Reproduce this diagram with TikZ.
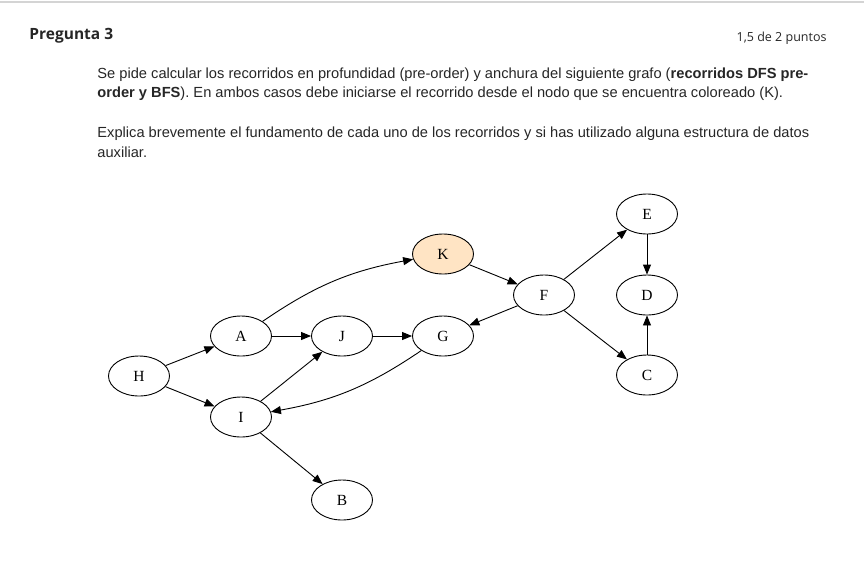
\documentclass[tikz,border=0pt]{standalone}
\usepackage{fontspec}
\setmainfont{Liberation Sans}
\newfontfamily\headfont{Open Sans}
\newfontfamily\graphfont{Liberation Serif}
\usepackage{tikz}
\usetikzlibrary{shapes.geometric,arrows.meta,positioning}
\definecolor{textgray}{HTML}{262626}
\definecolor{rulegray}{HTML}{D4D4D4}
\definecolor{startfill}{HTML}{FFE4C4}
\tikzset
{
    graphnode/.style = {ellipse, draw=black, line width=0.9pt, minimum width=61pt, minimum height=40pt, inner sep=0pt, font=\graphfont\fontsize{15.5}{15.5}\selectfont},
    startnode/.style = {graphnode, fill=startfill},
    textline/.style  = {anchor=base west, inner sep=0pt, text=textgray, font=\fontsize{14.65}{17}\selectfont}
}

\begin{document}
\begin{tikzpicture}[x=1pt, y=-1pt, ->, >={Triangle[length=10pt,width=8pt]}, line width=0.9pt]
    \useasboundingbox (0,0) rectangle (864,574);
    \draw [-, rulegray, line width=1.5pt] (0,2) -- (864,2);
    % header
    \node [textline, font=\headfont\bfseries\fontsize{15.5}{18}\selectfont] (title) at (29,39) {Pregunta 3};
    \node [textline, anchor=base east, font=\headfont\fontsize{12.5}{15}\selectfont] (points) at (827,41) {1,5 de 2 puntos};
    % statement
    \node [textline] (line1) at (97,78) {Se pide calcular los recorridos en profundidad (pre-order) y anchura del siguiente grafo (\textbf{recorridos DFS pre-}};
    \node [textline] (line2) at (97,97.5) {\textbf{order y BFS}). En ambos casos debe iniciarse el recorrido desde el nodo que se encuentra coloreado (K).};
    \node [textline] (line3) at (97,137.5) {Explica brevemente el fundamento de cada uno de los recorridos y si has utilizado alguna estructura de datos};
    \node [textline] (line4) at (97,157) {auxiliar.};
    % graph
    \node [graphnode] (H) at (139,376) {H};
    \node [graphnode] (A) at (241,336) {A};
    \node [graphnode] (I) at (241,417) {I};
    \node [graphnode] (J) at (342,336) {J};
    \node [graphnode] (B) at (342,500) {B};
    \node [graphnode] (G) at (443,336) {G};
    \node [startnode] (K) at (443,254) {K};
    \node [graphnode] (F) at (544,295) {F};
    \node [graphnode] (E) at (647,214) {E};
    \node [graphnode] (D) at (647,295) {D};
    \node [graphnode] (C) at (647,375) {C};

    \draw (H) -- (A);
    \draw (H) -- (I);
    \draw (A) -- (J);
    \draw (A) to [bend left=12] (K);
    \draw (J) -- (G);
    \draw (I) -- (J);
    \draw (I) -- (B);
    \draw (G) to [bend left=12] (I);
    \draw (K) -- (F);
    \draw (F) -- (G);
    \draw (F) -- (E);
    \draw (F) -- (C);
    \draw (E) -- (D);
    \draw (C) -- (D);
\end{tikzpicture}
\end{document}
